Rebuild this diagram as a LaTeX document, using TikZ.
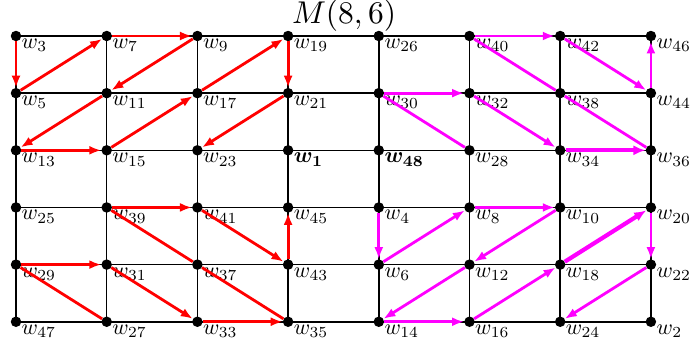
\documentclass[tikz,border=0pt]{standalone}
\usepackage{bm}
\usetikzlibrary{arrows.meta}
\definecolor{mgc}{RGB}{255,0,255}
\definecolor{rdc}{RGB}{255,0,0}
\newcommand{\wl}[1]{\scalebox{2.2}{$#1$}}
\begin{document}
\begin{tikzpicture}[x=1pt,y=-1pt,
  dot/.style={circle,fill=black,inner sep=0pt,minimum size=10.5pt},
  lab/.style={anchor=base west,inner sep=0pt},
  gridline/.style={line width=1.5pt,black},
  pathline/.style={line width=2.8pt},
  arr/.style={pathline,-{Latex[length=12pt,width=9pt]}},
  thick arr/.style={line width=4.2pt,-{Latex[length=12pt,width=10pt]}},
  rd/.style={rdc},
  mg/.style={mgc}
]
\useasboundingbox (0,0) rectangle (691,349);
\node[inner sep=0pt] (title) at (344,16) {\scalebox{3.15}{$M(8,6)$}};

% coordinates of the 8x6 grid
\foreach \num [count=\i from 0] in {3,7,9,19,26,40,42,46,
  5,11,17,21,30,32,38,44,
  13,15,23,1,48,28,34,36,
  25,39,41,45,4,8,10,20,
  29,31,37,43,6,12,18,22,
  47,27,33,35,14,16,24,2}
{
  \pgfmathtruncatemacro\c{mod(\i,8)}
  \pgfmathtruncatemacro\r{div(\i,8)}
  \coordinate (c\num) at ({16+90.7*\c},{36+57.15*\r});
}

% grid lines
\foreach \a/\b in {3/46,5/44,13/36,25/20,29/22,47/2,
  3/47,7/27,9/33,19/35,26/14,40/16,42/24,46/2}
  \draw[gridline] (c\a) -- (c\b);

% dots and labels
\foreach \num/\txt in {3/{w_{3}},7/{w_{7}},9/{w_{9}},19/{w_{19}},26/{w_{26}},40/{w_{40}},42/{w_{42}},46/{w_{46}},
  5/{w_{5}},11/{w_{11}},17/{w_{17}},21/{w_{21}},30/{w_{30}},32/{w_{32}},38/{w_{38}},44/{w_{44}},
  13/{w_{13}},15/{w_{15}},23/{w_{23}},1/{\bm{w_{1}}},48/{\bm{w_{48}}},28/{w_{28}},34/{w_{34}},36/{w_{36}},
  25/{w_{25}},39/{w_{39}},41/{w_{41}},45/{w_{45}},4/{w_{4}},8/{w_{8}},10/{w_{10}},20/{w_{20}},
  29/{w_{29}},31/{w_{31}},37/{w_{37}},43/{w_{43}},6/{w_{6}},12/{w_{12}},18/{w_{18}},22/{w_{22}},
  47/{w_{47}},27/{w_{27}},33/{w_{33}},35/{w_{35}},14/{w_{14}},16/{w_{16}},24/{w_{24}},2/{w_{2}}}
{
  \node[dot] (n\num) at (c\num) {};
  \node[lab] (l\num) at ([xshift=5.5pt,yshift=-12.5pt]c\num) {\wl{\txt}};
}

% red path
\foreach \a/\b in {3/5,5/7,7/9,9/11,11/13,13/15,15/17,17/19,19/21,21/23,
  29/31,31/33,33/35,39/41,41/43,43/45}
  \draw[arr,rd] (n\a) -- (n\b);
\foreach \a/\b in {29/27,39/37,37/35}
  \draw[pathline,rd] (n\a) -- (n\b);

% magenta path
\foreach \a/\b in {4/6,6/8,8/10,10/12,12/14,14/16,16/18,20/22,22/24,
  30/32,32/34,40/42,42/44,44/46}
  \draw[arr,mg] (n\a) -- (n\b);
\foreach \a/\b in {18/20,34/36}
  \draw[thick arr,mg] (n\a) -- (n\b);
\foreach \a/\b in {30/28,40/38,38/36}
  \draw[pathline,mg] (n\a) -- (n\b);
\end{tikzpicture}
\end{document}
